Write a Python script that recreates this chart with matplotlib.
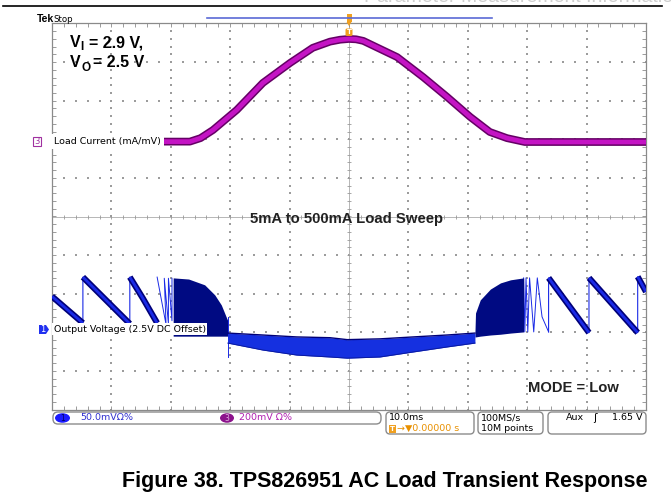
import matplotlib
matplotlib.use("Agg")
import matplotlib.pyplot as plt
from matplotlib.patches import FancyBboxPatch, Ellipse, Rectangle, Polygon
import numpy as np

W, H = 671, 500

# ---- values: time in ms, amplitude in divisions ----
# channel 3, load current
cur_t = [-50.0, -26.8, -25.0, -22.9, -18.9, -14.5, -9.9, -6.1, -3.2, -1.5, 0.0,
         1.2, 2.4, 8.1, 12.5, 16.5, 20.4, 23.7, 26.6, 29.6, 50.0]
cur_v = [1.94, 1.94, 2.03, 2.24, 2.76, 3.46, 3.98, 4.37, 4.53, 4.58, 4.60,
         4.59, 4.55, 4.13, 3.61, 3.10, 2.58, 2.19, 2.03, 1.93, 1.93]

# channel 1, output voltage: PFM sawtooth on the left
saw_l_t = [-50.0, -44.8, -44.8, -36.9, -36.9, -34.7, -32.3]
saw_l_v = [-2.07, -2.76, -1.57, -2.78, -1.57, -2.12, -2.76]
burst_l_t = [-32.3, -30.8, -31.1, -30.4, -30.4, -29.8, -29.8]
burst_l_v = [-1.57, -2.80, -1.60, -2.78, -1.60, -2.70, -1.60]

# dense switching region before PWM
dense_l_t = [-29.6, -27.0, -24.3, -22.6, -21.5, -20.6, -20.4]
dense_l_top = [-1.59, -1.62, -1.77, -2.03, -2.29, -2.63, -2.70]
dense_l_bot = [-3.10, -3.10, -3.10, -3.10, -3.10, -3.10, -3.10]

# PWM ripple band in the middle
mid_t = [-20.4, -14.5, -8.8, -3.2, -0.3, 5.2, 10.8, 16.5, 21.2]
mid_top = [-3.02, -3.07, -3.12, -3.14, -3.19, -3.17, -3.12, -3.07, -3.02]
mid_bot = [-3.28, -3.46, -3.59, -3.64, -3.67, -3.64, -3.51, -3.38, -3.28]

# dense region after PWM
dense_r_t = [21.2, 21.3, 22.1, 23.8, 25.5, 27.2, 29.4]
dense_r_top = [-3.02, -2.50, -2.16, -1.88, -1.72, -1.64, -1.59]
dense_r_bot = [-3.12, -3.12, -3.10, -3.07, -3.05, -3.02, -2.99]

# PFM sawtooth on the right
burst_r_t = [29.4, 29.6, 29.8, 30.1, 30.4, 31.1, 31.7, 32.5, 33.6]
burst_r_v = [-1.59, -2.99, -1.59, -2.99, -1.59, -2.99, -1.59, -2.60, -2.99]
saw_r_t = [33.6, 33.6, 40.4, 40.4, 48.6, 48.6, 50.0]
saw_r_v = [-2.99, -1.59, -3.01, -1.59, -3.01, -1.56, -1.95]

status_left = ["50.0mV\u03a9%", "200mV \u03a9%"]
caption = "Figure 38. TPS826951 AC Load Transient Response"

BLUE = "#1a2ae6"
NAVY = "#000078"
MAG = "#c414c4"
MAG_DARK = "#650065"
GRID = "#9c9c9c"
ORANGE = "#f0a020"
ARIAL = "Liberation Sans"

plt.rcParams["font.family"] = ["DejaVu Sans"]

fig = plt.figure(figsize=(W / 100, H / 100), dpi=100)
fig.patch.set_facecolor("white")

# scope graticule: 10 x 10 divisions
ax = fig.add_axes([52 / W, (H - 409.5) / H, 594 / W, 386 / H])
ax.set_xlim(-50, 50)
ax.set_ylim(-5, 5)
minor_x = np.arange(-50, 50.01, 2)
minor_y = np.arange(-5, 5.01, 0.2)
ax.set_xticks(minor_x)
ax.set_yticks(minor_y)
ax.tick_params(which="both", direction="in", length=3, width=0.6, color="#8c8c8c",
               top=True, right=True, labelbottom=False, labelleft=False)
for sp in ax.spines.values():
    sp.set_color("#8a8a8a")
    sp.set_linewidth(0.9)

for g in range(-40, 41, 10):
    if g == 0:
        continue
    ax.scatter(np.full_like(minor_y, g), minor_y, s=0.7, marker="s", color=GRID, lw=0, zorder=1)
for g in range(-4, 5):
    if g == 0:
        continue
    ax.scatter(minor_x, np.full_like(minor_x, g), s=0.7, marker="s", color=GRID, lw=0, zorder=1)
ax.axhline(0, color="#ababab", lw=0.6, zorder=1)
ax.axvline(0, color="#ababab", lw=0.6, zorder=1)
ax.plot(minor_x, np.zeros_like(minor_x), ls="none", marker="|", ms=3.5, mew=0.6, color="#999999", zorder=1)
ax.plot(np.zeros_like(minor_y), minor_y, ls="none", marker="_", ms=3.5, mew=0.6, color="#999999", zorder=1)

# load current
ax.plot(cur_t, cur_v, color=MAG_DARK, lw=5.6, solid_capstyle="butt", solid_joinstyle="round", zorder=3)
ax.plot(cur_t, cur_v, color=MAG, lw=3.4, solid_capstyle="butt", solid_joinstyle="round", zorder=4)


def draw_saw(t, v):
    # thin line for the jumps, thick band on the discharge ramps
    ax.plot(t, v, color=BLUE, lw=0.8, zorder=3)
    start = 0
    for i in range(1, len(t) + 1):
        if i == len(t) or t[i] == t[i - 1]:
            if i - start > 1:
                ax.plot(t[start:i], v[start:i], color=NAVY, lw=4.4, solid_capstyle="butt", zorder=3)
                ax.plot(t[start:i], v[start:i], color=BLUE, lw=2.0, solid_capstyle="butt", zorder=4)
            start = i


draw_saw(saw_l_t, saw_l_v)
draw_saw(saw_r_t, saw_r_v)
ax.plot(burst_l_t, burst_l_v, color=BLUE, lw=0.7, zorder=3)
ax.plot(burst_r_t, burst_r_v, color=BLUE, lw=0.7, zorder=3)

ax.fill_between(dense_l_t, dense_l_bot, dense_l_top, color="#000a82", lw=0, zorder=3)
ax.fill_between(dense_r_t, dense_r_bot, dense_r_top, color="#000a82", lw=0, zorder=3)
ax.plot([-20.4, -20.4], [-2.6, -3.64], color=BLUE, lw=0.7, zorder=3)

ax.fill_between(mid_t, mid_bot, mid_top, color="#1530e0", lw=0, zorder=3)
ax.plot(mid_t, mid_top, color=NAVY, lw=1.0, zorder=4)
ax.plot(mid_t, mid_bot, color="#0a1aa0", lw=0.7, zorder=4)

# overlay in pixel coordinates for the screen annotations
ov = fig.add_axes([0, 0, 1, 1], zorder=5)
ov.set_xlim(0, W)
ov.set_ylim(H, 0)
ov.axis("off")
ov.patch.set_alpha(0)

# page header: only the lower edge of the running title is on this crop
ov.plot([3, 662], [6, 6], color="black", lw=1.2)
ov.text(364, 2.5, "Parameter Measurement Information", fontsize=14, family=ARIAL,
        color="#cfcfcf", va="baseline", ha="left")
ov.plot([207, 492], [18, 18], color="#5a6ad6", lw=1.2)

ov.text(37, 21.5, "Tek", fontsize=7.5, family=ARIAL, weight="bold", va="baseline")
ov.text(53, 21.5, "Stop", fontsize=6.2, va="baseline")

# trigger markers
ov.add_patch(Rectangle((346.5, 14), 5, 8, fc=ORANGE, ec="none"))
ov.add_patch(Polygon([[346.5, 22], [351.5, 22], [349, 26]], fc=ORANGE, ec="none"))
ov.add_patch(FancyBboxPatch((345.5, 28.5), 7, 7.5, boxstyle="round,pad=0,rounding_size=1.5",
                            fc=ORANGE, ec="none"))
ov.text(349, 32.5, "T", fontsize=5, color="white", ha="center", va="center", weight="bold")

ov.text(70, 47, "V", fontsize=11.5, family=ARIAL, weight="bold", va="baseline")
ov.text(80.5, 49.5, "I", fontsize=8.5, family=ARIAL, weight="bold", va="baseline")
ov.text(89, 47, "= 2.9 V,", fontsize=11.5, family=ARIAL, weight="bold", va="baseline")
ov.text(70, 67, "V", fontsize=11.5, family=ARIAL, weight="bold", va="baseline")
ov.text(81.5, 71, "O", fontsize=8.5, family=ARIAL, weight="bold", va="baseline")
ov.text(93, 67, "= 2.5 V", fontsize=11.5, family=ARIAL, weight="bold", va="baseline")

ov.text(347, 219, "5mA to 500mA Load Sweep", fontsize=10.7, family=ARIAL, weight="bold",
        ha="center", va="center", color="#222222")
ov.text(528, 388, "MODE = Low", fontsize=10.6, family=ARIAL, weight="bold",
        ha="left", va="center", color="#222222")

# channel labels
ov.add_patch(Rectangle((33, 137), 8, 9, fc="white", ec="#a030a0", lw=0.8))
ov.text(37, 141.7, "3", fontsize=6, color="#a030a0", ha="center", va="center")
ov.text(54, 141.5, "Load Current (mA/mV)", fontsize=6.8, va="center", ha="left",
        bbox=dict(fc="white", ec="none", pad=2.0))
ov.add_patch(Polygon([[39, 325], [46, 325], [49, 329.5], [46, 334], [39, 334]], fc="#2030f0", ec="none"))
ov.text(43, 329.7, "1", fontsize=6, color="white", ha="center", va="center")
ov.text(53.5, 329, "Output Voltage (2.5V DC Offset)", fontsize=6.8, va="center", ha="left",
        bbox=dict(fc="white", ec="none", pad=1.2))

# status bar
box_kw = dict(fc="white", ec="#8c8c8c", lw=1.0)
ov.add_patch(FancyBboxPatch((53, 412), 328, 12, boxstyle="round,pad=0,rounding_size=5", **box_kw))
ov.add_patch(FancyBboxPatch((386, 412), 88, 22, boxstyle="round,pad=0,rounding_size=4", **box_kw))
ov.add_patch(FancyBboxPatch((478, 412), 65, 22, boxstyle="round,pad=0,rounding_size=4", **box_kw))
ov.add_patch(FancyBboxPatch((548, 412), 98, 22, boxstyle="round,pad=0,rounding_size=4", **box_kw))

ov.add_patch(Ellipse((62.5, 418), 15, 9.5, fc="#1a1aff", ec="none"))
ov.text(62.5, 418.3, "1", fontsize=5.5, color="#000060", ha="center", va="center")
ov.text(80, 418, status_left[0], fontsize=6.8, color="#3030d0", va="center")
ov.add_patch(Ellipse((227, 418), 14, 9.5, fc="#8c128c", ec="none"))
ov.text(227, 418.3, "3", fontsize=5.5, color="#e0b0e0", ha="center", va="center")
ov.text(239, 418, status_left[1], fontsize=6.8, color="#b020b0", va="center")

ov.text(389, 418, "10.0ms", fontsize=6.8, va="center")
ov.add_patch(Rectangle((388.5, 424.5), 7, 8, fc=ORANGE, ec="none"))
ov.text(392, 428.7, "T", fontsize=5, color="white", ha="center", va="center", weight="bold")
ov.text(397, 428.5, "\u2192\u25bc0.00000 s", fontsize=6.8, color="#e89000", va="center")

ov.text(481, 418, "100MS/s", fontsize=6.8, va="center")
ov.text(481, 428.5, "10M points", fontsize=6.8, va="center")

ov.text(566, 418, "Aux", fontsize=6.8, va="center")
ov.text(593, 418, "\u0283", fontsize=7.5, va="center")
ov.text(643, 418, "1.65 V", fontsize=6.8, va="center", ha="right")

ov.text(384.5, 481, caption, fontsize=15.5, family=ARIAL, weight="bold", ha="center", va="center")

fig.savefig("out.png", dpi=100)
